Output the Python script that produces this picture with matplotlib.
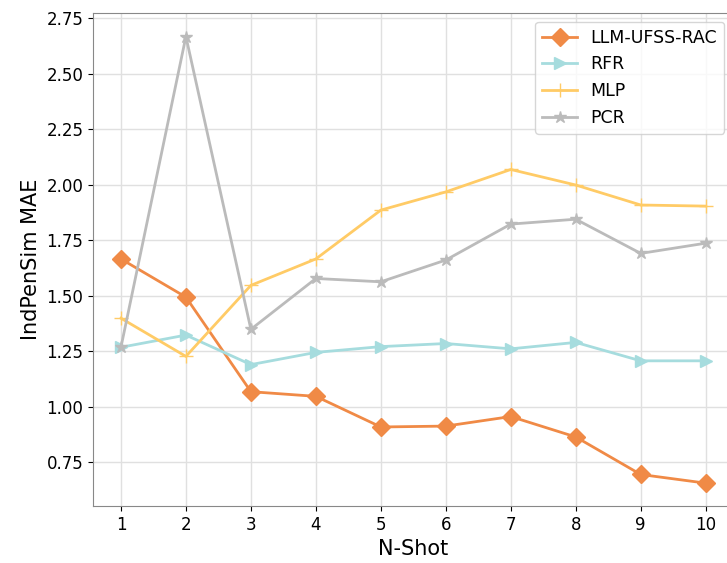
import matplotlib.pyplot as plt
import numpy as np

# N-shot settings and MAE of each method
shots = [1, 2, 3, 4, 5, 6, 7, 8, 9, 10]
llm_ufss_rac = [1.665, 1.493, 1.067, 1.046, 0.908, 0.912, 0.955, 0.863, 0.694, 0.655]
rfr = [1.267, 1.322, 1.189, 1.244, 1.270, 1.284, 1.260, 1.289, 1.206, 1.206]
mlp = [1.398, 1.226, 1.546, 1.665, 1.885, 1.967, 2.068, 1.998, 1.908, 1.903]
pcr = [1.267, 2.667, 1.348, 1.577, 1.562, 1.660, 1.822, 1.844, 1.690, 1.736]

fig = plt.figure(figsize=(7.27, 5.63), dpi=100)
ax = fig.add_axes([93 / 727, 57 / 563, 640 / 727, 493 / 563])

ax.plot(shots, llm_ufss_rac, color="#F08A46", marker="D", markersize=9, linewidth=2, label="LLM-UFSS-RAC")
ax.plot(shots, rfr, color="#A6DCDE", marker=">", markersize=9, linewidth=2, label="RFR")
ax.plot(shots, mlp, color="#FFCB66", marker="+", markersize=10, linewidth=2, label="MLP")
ax.plot(shots, pcr, color="#BBBBBB", marker="*", markersize=9, linewidth=2, label="PCR")

ax.set_xlim(0.57, 10.42)
ax.set_ylim(0.552, 2.773)
ax.set_xticks(shots)
ax.set_yticks(np.arange(0.75, 2.76, 0.25))
ax.grid(True, color="#E0E0E0", linewidth=1)
ax.set_axisbelow(True)
for s in ax.spines.values():
    s.set_color("#888888")
ax.tick_params(labelsize=12)
ax.set_xlabel("N-Shot", fontsize=15)
ax.set_ylabel("IndPenSim MAE", fontsize=15)
ax.legend(loc="upper right", fontsize=12.5)

plt.savefig("out.png")
